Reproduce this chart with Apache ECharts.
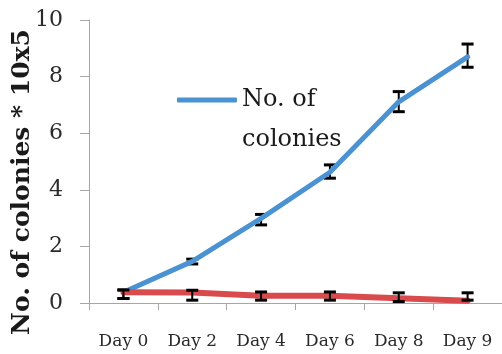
<!DOCTYPE html>
<html>
<head>
<meta charset="utf-8">
<script src="https://cdn.jsdelivr.net/npm/echarts@6/dist/echarts.min.js"></script>
<style>
  html, body { margin: 0; padding: 0; background: #fff; }
  #chart { width: 502px; height: 354px; }
</style>
</head>
<body>
<div id="chart"></div>
<script>
// Sampling days on the x axis
const days = ['Day 0', 'Day 2', 'Day 4', 'Day 6', 'Day 8', 'Day 9'];

// Colony counts (×10^5) with lower / upper error limits
const colonies = [0.38, 1.47, 2.99, 4.62, 7.11, 8.70];
const coloniesLow = [0.16, 1.38, 2.76, 4.41, 6.76, 8.33];
const coloniesHigh = [0.46, 1.55, 3.13, 4.88, 7.47, 9.15];

// Control series (not listed in the legend)
const control = [0.38, 0.37, 0.26, 0.26, 0.17, 0.08];
const controlLow = [0.16, 0.10, 0.10, 0.10, 0.05, 0.10];
const controlHigh = [0.46, 0.45, 0.39, 0.39, 0.36, 0.36];

// Y axis ticks
const yTicks = [0, 2, 4, 6, 8, 10];

const FONT = 'DejaVu Serif';
const TEXT = '#1a1a1a';
const AXIS = '#a6a6a6';
const BLUE = '#4a92d2';
const RED = '#d84a4b';

function errorData(low, high) {
  return low.map((lo, i) => [i, lo, high[i]]);
}

function renderErrorBar(params, api) {
  const x = api.value(0);
  const lo = api.coord([x, api.value(1)]);
  const hi = api.coord([x, api.value(2)]);
  const half = 6;
  return {
    type: 'group',
    children: [
      { type: 'line', shape: { x1: lo[0], y1: lo[1], x2: hi[0], y2: hi[1] }, style: { stroke: '#000', lineWidth: 2 } },
      { type: 'line', shape: { x1: hi[0] - half, y1: hi[1], x2: hi[0] + half, y2: hi[1] }, style: { stroke: '#000', lineWidth: 3 } },
      { type: 'line', shape: { x1: lo[0] - half, y1: lo[1], x2: lo[0] + half, y2: lo[1] }, style: { stroke: '#000', lineWidth: 3 } }
    ]
  };
}

const chart = echarts.init(document.getElementById('chart'), null, { renderer: 'canvas' });

chart.setOption({
  animation: false,
  backgroundColor: '#fff',
  grid: { left: 89, top: 20, bottom: 51, width: 423, containLabel: false },
  legend: {
    data: ['No. of colonies'],
    left: 177,
    top: 40,
    padding: 0,
    icon: 'roundRect',
    itemWidth: 60,
    itemHeight: 5,
    // leading blank line keeps the first text line level with the icon
    formatter: () => '\nNo. of\ncolonies',
    textStyle: {
      fontFamily: FONT,
      fontSize: 24,
      color: TEXT,
      lineHeight: 40
    }
  },
  xAxis: {
    type: 'category',
    data: days,
    boundaryGap: true,
    axisLine: { show: true, lineStyle: { color: AXIS, width: 1 } },
    axisTick: { show: true, length: 7, lineStyle: { color: AXIS } },
    axisLabel: { margin: 30, fontFamily: FONT, fontSize: 17, color: '#2a2a2a' },
    splitLine: { show: false }
  },
  yAxis: {
    type: 'value',
    min: yTicks[0],
    max: yTicks[yTicks.length - 1],
    interval: 2,
    axisLine: { show: true, lineStyle: { color: AXIS, width: 1 } },
    axisTick: { show: true, length: 9, lineStyle: { color: AXIS } },
    axisLabel: { margin: 26, fontFamily: FONT, fontSize: 22, color: '#2a2a2a' },
    splitLine: { show: false }
  },
  graphic: [{
    type: 'text',
    x: 22,
    y: 182,
    rotation: Math.PI / 2,
    style: {
      text: 'No. of colonies * 10x5',
      fontFamily: FONT,
      fontWeight: 'bold',
      fontSize: 25,
      fill: TEXT,
      align: 'center',
      verticalAlign: 'middle'
    }
  }],
  series: [
    {
      name: 'No. of colonies errors',
      type: 'custom',
      renderItem: renderErrorBar,
      data: errorData(coloniesLow, coloniesHigh),
      encode: { x: 0, y: [1, 2] },
      z: 1,
      silent: true
    },
    {
      name: 'No. of colonies',
      type: 'line',
      data: colonies,
      showSymbol: false,
      symbol: 'none',
      lineStyle: { color: BLUE, width: 5, cap: 'round', join: 'round' },
      itemStyle: { color: BLUE },
      z: 2
    },
    {
      name: 'Control',
      type: 'line',
      data: control,
      showSymbol: false,
      symbol: 'none',
      lineStyle: { color: RED, width: 6, cap: 'round', join: 'round' },
      itemStyle: { color: RED },
      z: 3
    },
    {
      name: 'Control errors',
      type: 'custom',
      renderItem: renderErrorBar,
      data: errorData(controlLow, controlHigh),
      encode: { x: 0, y: [1, 2] },
      z: 4,
      silent: true
    }
  ]
});
</script>
</body>
</html>
